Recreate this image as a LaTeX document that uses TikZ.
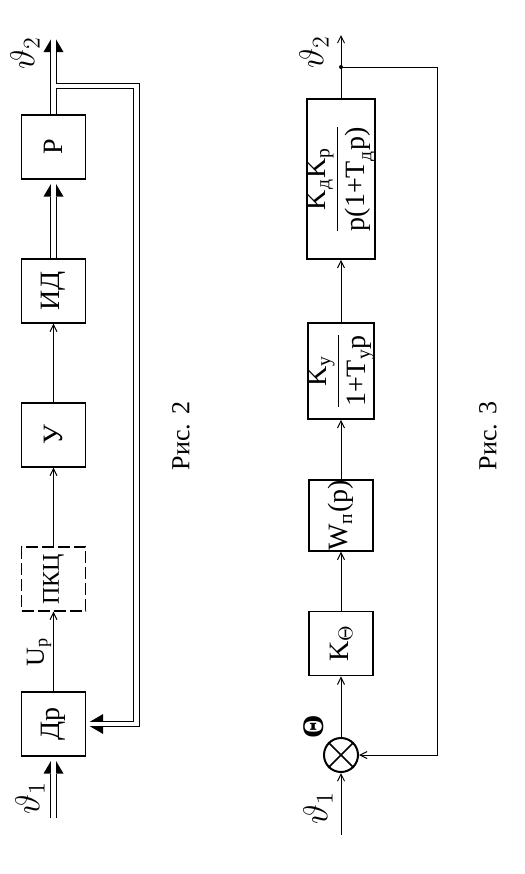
\documentclass[tikz,border=0pt]{standalone}
\usepackage{amsmath}
\usepackage{fontspec}
\setmainfont{Liberation Serif}
\usepackage{graphicx}
\usetikzlibrary{arrows.meta}

\newcommand{\vtxt}[1]{\rotatebox{90}{#1}}

\tikzset{
	blk/.style={draw,line width=0.6pt,minimum width=32pt,minimum height=#1,inner sep=0pt,font=\fontsize{14}{16}\selectfont},
	blk/.default=32pt,
	tbox/.style={blk=#1,line width=0.9pt},
	tbox/.default=32pt,
	sig/.style={rotate=90,font=\fontsize{17}{19}\selectfont}
}

\begin{document}
\begin{tikzpicture}[x=0.5pt,y=-0.5pt,
	every node/.style={font=\fontsize{13}{15}\selectfont},
	sarr/.style={line width=0.5pt,-{Straight Barb[length=3.5pt,width=3.5pt]}},
	fat/.style={line width=3.15pt,-{Triangle[length=8.5pt,width=10pt,line width=0pt]}},
	gap/.style={draw=white,line width=2.15pt}]
	\useasboundingbox (0,0) rectangle (525,874);

	% Рис. 2
	\node[blk] (r) at (53.5,147) {\vtxt{Р}};
	\node[blk] (id) at (53.5,291) {\vtxt{ИД}};
	\node[blk] (u) at (53.5,435) {\vtxt{У}};
	\node[blk,dash pattern=on 6pt off 2pt,font=\fontsize{12}{14}\selectfont] (pkc) at (53.5,579) {\vtxt{ПКЦ}};
	\node[blk] (dr) at (53.5,724) {\vtxt{Др}};

	\coordinate (in2) at (53.5,818);
	\coordinate (out2) at (53.5,35);
	\coordinate (fb0) at (53.5,86);
	\coordinate (fb1) at (136.5,724);

	\draw[sarr] (dr) -- (pkc);
	\draw[sarr] (pkc) -- (u);
	\draw[sarr] (u) -- (id);
	\draw[fat] (in2) -- (dr);
	\draw[gap] (in2) -- (dr);
	\draw[fat] (id) -- (r);
	\draw[gap] (id) -- (r);
	\draw[fat] (fb0) -| (fb1) -- (dr);
	\draw[fat] (r) -- (out2);
	\draw[gap] (r) -- (out2);
	\draw[gap] (fb0) -| (fb1) -- (dr);

	\node[sig] (th2) at (25,53) {$\vartheta_2$};
	\node[sig] (th1) at (30,798) {$\vartheta_1$};
	\node[rotate=90] (upr) at (39,652) {U$_\text{р}$};
	\node[rotate=90] (cap2) at (181,436) {Рис. 2};

	% Рис. 3
	\node[tbox=80pt] (kd) at (341,179) {\vtxt{$\dfrac{\text{K}_\text{д}\text{K}_\text{р}}{\text{p(1+T}_\text{д}\text{p)}}$}};
	\node[tbox=48pt] (ky) at (341,371) {\vtxt{$\dfrac{\text{K}_\text{у}}{\text{1+T}_\text{у}\text{p}}$}};
	\node[tbox] (wp) at (341,515.5) {\vtxt{W$_\text{п}$(p)}};
	\node[tbox] (kt) at (341,643.5) {\vtxt{K$_\Theta$}};
	\node[draw,circle,line width=1pt,minimum size=17pt,inner sep=0pt] (sum) at (341,755) {};
	\draw[line width=0.8pt] (sum.north east) -- (sum.south west) (sum.north west) -- (sum.south east);

	\coordinate (in3) at (341,835);
	\coordinate (out3) at (341,35);
	\coordinate (br) at (341,67);
	\coordinate (fb3) at (437,755);

	\draw[sarr] (in3) -- (sum);
	\draw[sarr] (sum) -- (kt);
	\draw[sarr] (kt) -- (wp);
	\draw[sarr] (wp) -- (ky);
	\draw[sarr] (ky) -- (kd);
	\draw[sarr] (kd) -- (out3);
	\draw[sarr] (br) -| (fb3) -- (sum);
	\fill (br) circle (1pt);

	\node[sig] (th4) at (314,52) {$\vartheta_2$};
	\node[sig] (th3) at (318,808) {$\vartheta_1$};
	\node[rotate=90,font=\bfseries\fontsize{15}{17}\selectfont] (thg) at (314,727) {Θ};
	\node[rotate=90] (cap3) at (488,436) {Рис. 3};
\end{tikzpicture}
\end{document}
